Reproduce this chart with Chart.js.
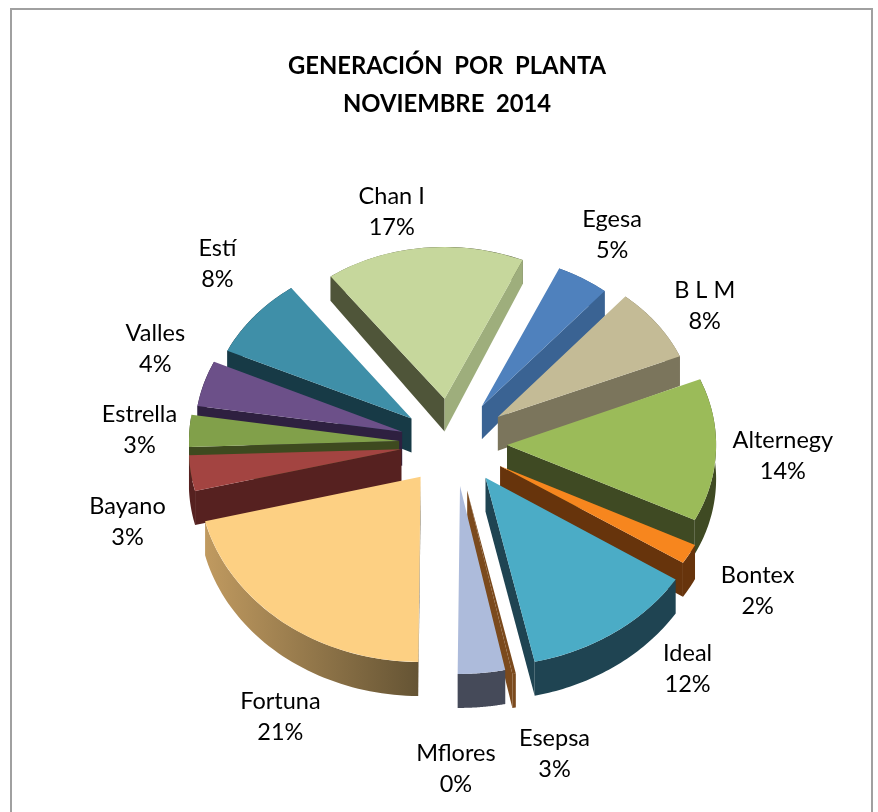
<!DOCTYPE html>
<html><head><meta charset="utf-8">
<style>html,body{margin:0;padding:0;background:#fff}canvas{display:block}</style>
<script src="https://cdn.jsdelivr.net/npm/chart.js@4/dist/chart.umd.js"></script>
</head><body>
<canvas id="c" width="878" height="812"></canvas>
<script>
const titleLines = ["GENERACIÓN  POR  PLANTA", "NOVIEMBRE  2014"];
const plants = ["Egesa","B L M","Alternegy","Bontex","Ideal","Mflores","Esepsa","Fortuna","Bayano","Estrella","Valles","Estí","Chan I"];
const shares = [4.5,7.5,13.5,1.8,12.4,0.25,3.4,20.9,3.3,3.0,4.4,8,16.7];

const topColors  = ["#4f81bd","#c4bb96","#9bbb59","#f7861e","#4bacc6","#7b4a1d","#adbbdb","#fdd083","#a34441","#81a04a","#6c5089","#3f8fa8","#c6d79c"];
const wallColors = ["#3a6393","#7b755c","#3f4a23","#67340c","#1f4452","#7b4a1d","#454a59","#655434","#562120","#3e4a1f","#2e2040","#173a46","#4f5539"];
const endWallColors = ["#3a6393","#7b755c","#3f4a23","#67340c","#1f4452","#7b4a1d","#454a59","#655434","#562120","#3e4a1f","#2e2040","#173a46","#9eae7c"];
const wallFadeColors = [null,null,null,null,null,null,null,"#c09a60",null,null,null,null,null];
const explode = [58,58,56,54,55,58,52,49,50,52,51,51,60];
const tipDrift = [[0,0],[0,0],[0,0],[2,0],[3,-5],[4,-3],[4,-3],[0,0],[0,0],[0,0],[0,0],[0,0],[0,0]];
const sliceScale = [0.95,0.97,0.99,1,1.02,1,1,1.005,1,1,1,1,0.97];
const labelNudges = [[17,-34],[35,-13],[63,6],[72,36],[80,40],[-56,96],[74,81],[-8,95],[-63,48],[-47,-1],[-43,-34],[-29,-50],[-30,-28]];

const FONT = "Lato";
const RADIUS = 213;
const PIE_SHIFT_X = 4;

// the far side of the tilted pie is foreshortened, the near side enlarged
const anchorTilt = mid => 0.815 + 0.065 * Math.sin(mid);
const surfaceTilt = mid => 0.815 + 0.025 * Math.sin(mid);
const surfaceScale = mid => 0.99 + 0.06 * Math.sin(mid);
function depthAt(y){ return Math.max(24, Math.min(34, 24 + (y - 270) * 10 / 150)); }

const pie3d = {
  id: "pie3d",
  beforeDraw(chart){
    const c = chart.ctx;
    c.save();
    c.fillStyle = "#fff"; c.fillRect(0,0,chart.width,chart.height);
    c.strokeStyle = "#a0a0a0"; c.lineWidth = 2;
    c.strokeRect(11,9,861,900);
    c.restore();
  },
  beforeDatasetsDraw(chart){
    const c = chart.ctx;
    const arcs = chart.getDatasetMeta(0).data;
    const geo = arcs.map((arc,i)=>{
      const mid = (arc.startAngle + arc.endAngle) / 2;
      const ak = anchorTilt(mid);
      const tx = arc.x + PIE_SHIFT_X + explode[i] * Math.cos(mid) + tipDrift[i][0];
      const ty = arc.y + explode[i] * ak * Math.sin(mid) + tipDrift[i][1];
      return {arc,i,mid,ak,k:surfaceTilt(mid),s:surfaceScale(mid)*sliceScale[i],tx,ty};
    });
    geo.slice().sort((a,b)=>Math.sin(a.mid)-Math.sin(b.mid)).forEach(g=>{
      const {arc,i,k,s,tx,ty} = g;
      const pt = a => [tx + RADIUS*s*Math.cos(a), ty + RADIUS*s*k*Math.sin(a)];
      const n = 48, pts = [];
      for(let j=0;j<=n;j++) pts.push(pt(arc.startAngle + (arc.endAngle-arc.startAngle)*j/n));
      // outer wall
      c.beginPath();
      pts.forEach((p,j)=> j? c.lineTo(p[0],p[1]) : c.moveTo(p[0],p[1]));
      pts.slice().reverse().forEach(p=> c.lineTo(p[0],p[1]+depthAt(p[1])));
      c.closePath();
      if(wallFadeColors[i]){
        const xs = pts.map(p=>p[0]);
        const gr = c.createLinearGradient(Math.min(...xs),0,Math.max(...xs),0);
        gr.addColorStop(0,wallFadeColors[i]); gr.addColorStop(1,wallColors[i]);
        c.fillStyle = gr;
      } else c.fillStyle = wallColors[i];
      c.fill();
      // radial walls that face the viewer
      const d0 = depthAt(ty);
      const edge = (p,col)=>{
        c.beginPath(); c.moveTo(tx,ty); c.lineTo(p[0],p[1]);
        c.lineTo(p[0],p[1]+depthAt(p[1])); c.lineTo(tx,ty+d0); c.closePath();
        c.fillStyle = col; c.fill();
      };
      if(Math.cos(arc.startAngle) < 0) edge(pts[0], wallColors[i]);
      if(Math.cos(arc.endAngle) > 0) edge(pts[n], endWallColors[i]);
      // top surface through the library's arc element
      c.save();
      c.translate(tx,ty); c.scale(s,s*k); c.translate(-arc.x,-arc.y);
      arc.draw(c);
      c.restore();
    });
    // labels
    c.save();
    c.fillStyle = "#000"; c.textAlign = "center"; c.textBaseline = "middle";
    c.font = "23.5px " + FONT;
    const total = shares.reduce((a,b)=>a+b,0);
    geo.forEach(g=>{
      const x = g.tx + RADIUS*Math.cos(g.mid) + labelNudges[g.i][0];
      const y = g.ty + RADIUS*g.ak*Math.sin(g.mid) + labelNudges[g.i][1];
      c.fillText(plants[g.i], x, y-15.5);
      c.fillText(Math.round(shares[g.i]/total*100)+"%", x, y+15.5);
    });
    c.restore();
    return false;
  }
};

new Chart(document.getElementById("c"),{
  type:"pie",
  data:{labels:plants,datasets:[{data:shares,backgroundColor:topColors,borderWidth:0}]},
  options:{
    responsive:false,animation:false,rotation:24,radius:RADIUS,
    layout:{padding:{left:16,right:0,top:0,bottom:51}},
    plugins:{
      legend:{display:false},tooltip:{enabled:false},
      title:{display:true,text:titleLines,color:"#000",
        font:{family:FONT,size:23.8,weight:"bold",lineHeight:1.6},
        padding:{top:47,bottom:3}}
    }
  },
  plugins:[pie3d]
});
</script>
</body></html>
